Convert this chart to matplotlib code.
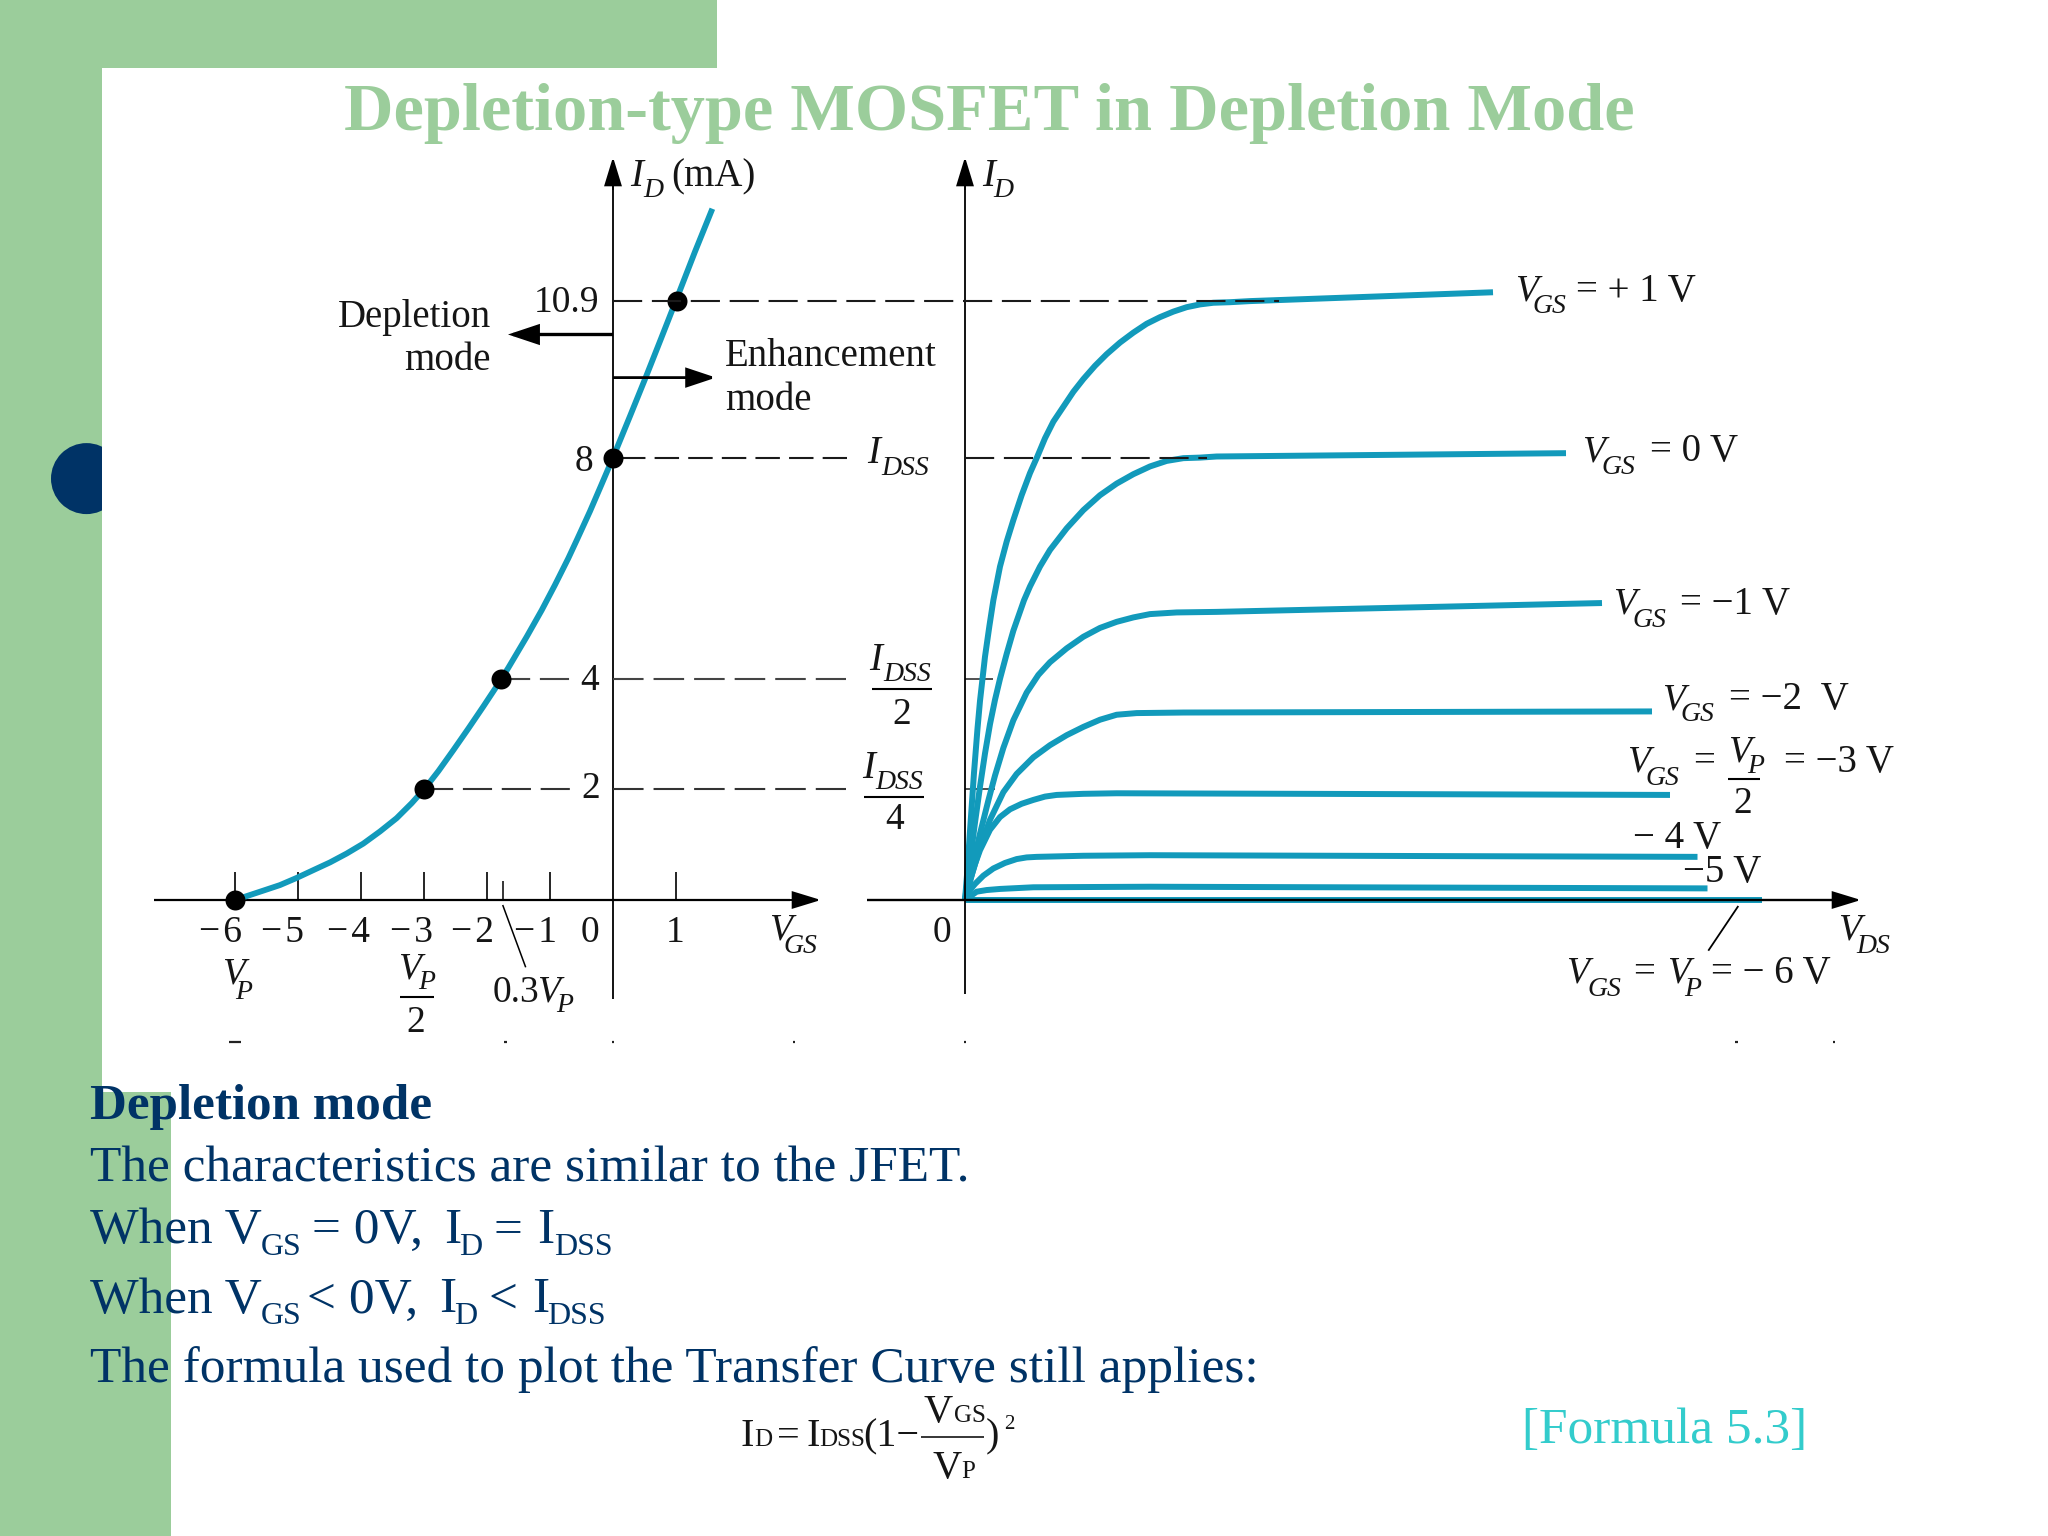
import matplotlib
matplotlib.use("Agg")
import matplotlib.pyplot as plt
from matplotlib.patches import Rectangle, Circle, FancyArrowPatch

plt.rcParams['font.family'] = ['Liberation Serif', 'DejaVu Serif']
plt.rcParams['lines.scale_dashes'] = False

W, H = 2048, 1536
GREEN = '#9BCD9B'
NAVY = '#003366'
TEAL = '#129ABB'
CYAN = '#33CCCC'
INK = '#151515'

# ---------- data ----------
# transfer curve (VGS in volts, ID in mA)
transfer_vgs = [-6, -5.815, -5.55, -5.286, -5.02, -4.757, -4.492, -4.228, -3.963, -3.698, -3.434, -3.196,
                -2.984, -2.772, -2.534, -2.296, -2.058, -1.82, -1.661, -1.37, -1.132, -0.92, -0.709,
                -0.566, -0.365, -0.18, 0, 0.27, 0.519, 0.762, 1.01, 1.30, 1.577]
transfer_id = [0, 0.07, 0.17, 0.27, 0.40, 0.54, 0.68, 0.84, 1.02, 1.24, 1.48, 1.75,
               2.02, 2.33, 2.71, 3.10, 3.50, 3.91, 4.20, 4.76, 5.24, 5.70, 6.18,
               6.53, 7.03, 7.52, 8.00, 8.75, 9.45, 10.15, 10.87, 11.72, 12.50]
dot_vgs = [-6, -3, -1.77, 0, 1.01]
dot_id = [0, 2, 4, 8, 10.84]
vgs_ticks = [-6, -5, -4, -3, -2, -1, 1]
vgs_minor_tick = [-1.75]
vgs_tick_labels = ['\u2212\u200a6', '\u2212\u200a5', '\u2212\u200a4', '\u2212\u200a3', '\u2212\u200a2', '\u2212\u200a1', '0', '1']

# drain curves (VDS in arbitrary units, ID in mA)
vds_p1 = [0, .04, .10, .18, .25, .30, .40, .487, .567, .70, .833, .967, 1.133, 1.30, 1.447, 1.60, 1.767,
          1.967, 2.167, 2.367, 2.60, 2.833, 3.10, 3.367, 3.633, 3.90, 4.167, 4.433, 4.70, 4.967, 5.30, 5.70, 10.56]
id_p1 = [0, .45, 1.25, 2.30, 3.10, 3.60, 4.40, 4.95, 5.42, 6.03, 6.48, 6.87, 7.32, 7.72, 8.02, 8.35, 8.65,
         8.92, 9.19, 9.42, 9.66, 9.87, 10.08, 10.26, 10.42, 10.54, 10.64, 10.72, 10.77, 10.80, 10.81, 10.83, 10.99]
vds_0 = [0, .10, .20, .30, .40, .50, .60, .70, .833, .967, 1.18, 1.30, 1.50, 1.70, 2.033, 2.367, 2.70, 3.033,
         3.367, 3.70, 4.033, 4.367, 4.70, 5.033, 12.02]
id_0 = [0, .70, 1.40, 2.05, 2.65, 3.18, 3.62, 4.00, 4.45, 4.87, 5.42, 5.67, 6.03, 6.33, 6.72, 7.05, 7.32, 7.53,
        7.70, 7.84, 7.94, 7.99, 8.0, 8.02, 8.08]
vds_m1 = [0, .15, .30, .467, .60, .767, .967, 1.233, 1.467, 1.70, 2.033, 2.367, 2.70, 3.033, 3.367, 3.70, 4.233, 5.033, 12.74]
id_m1 = [0, .62, 1.20, 1.80, 2.25, 2.75, 3.25, 3.75, 4.07, 4.30, 4.55, 4.76, 4.92, 5.03, 5.11, 5.17, 5.20, 5.21, 5.37]
vds_m2 = [0, .15, .30, .50, .767, 1.033, 1.367, 1.70, 2.033, 2.367, 2.70, 3.033, 3.433, 4.367, 13.74]
id_m2 = [0, .50, .95, 1.45, 1.95, 2.28, 2.58, 2.80, 2.98, 3.13, 3.26, 3.35, 3.38, 3.39, 3.41]
vds_m3 = [0, .10, .20, .30, .50, .70, .90, 1.133, 1.367, 1.60, 1.833, 2.367, 3.033, 14.1]
id_m3 = [0, .35, .65, .90, 1.27, 1.50, 1.64, 1.74, 1.81, 1.87, 1.90, 1.92, 1.93, 1.90]
vds_m4 = [0, .10, .20, .367, .567, .80, 1.033, 1.233, 1.433, 2.367, 3.70, 14.65]
id_m4 = [0, .18, .29, .44, .57, .67, .74, .77, .78, .80, .81, .78]
vds_m5 = [0, .233, .433, .70, 1.367, 3.70, 14.85]
id_m5 = [0, .15, .18, .20, .23, .24, .21]
vds_m6 = [0, 15.93]
id_m6 = [0, 0]

# ---------- figure and coordinate systems ----------
fig = plt.figure(figsize=(W / 100, H / 100), dpi=100, facecolor='white')

def layer(xlim, ylim, z):
    a = fig.add_axes([0, 0, 1, 1], zorder=z)
    a.set_xlim(*xlim)
    a.set_ylim(*ylim)
    a.axis('off')
    a.patch.set_alpha(0)
    return a

bg = layer((0, W), (H, 0), 0)        # page, in pixels
ylim_id = ((900 - H) / 55.3, 900 / 55.3)
left = layer(((0 - 613) / 63, (W - 613) / 63), ylim_id, 1)
right = layer(((0 - 965) / 50, (W - 965) / 50), ylim_id, 2)
top = layer((0, W), (H, 0), 3)       # annotations, in pixels

# ---------- slide background ----------
bg.add_patch(Rectangle((0, 0), 716.5, 68, fc=GREEN, ec='none', zorder=1))
bg.add_patch(Rectangle((0, 0), 102, H, fc=GREEN, ec='none', zorder=1))
bg.add_patch(Circle((86.5, 478.6), 35.5, fc=NAVY, ec='none', zorder=2))
bg.add_patch(Rectangle((102, 68), W, H, fc='white', ec='none', zorder=3))
bg.add_patch(Rectangle((0, 1092), 171, H - 1092, fc=GREEN, ec='none', zorder=4))

# ---------- helpers ----------
def T(x, y, s, size=28, style='normal', weight='normal', color=INK, ha='left'):
    return top.text(x, y, s, fontsize=size, fontstyle=style, fontweight=weight, color=color,
                    ha=ha, va='baseline')

def arrow(a, p0, p1, lw=1.4, hl=18, hw=5.5):
    a.add_patch(FancyArrowPatch(p0, p1, arrowstyle=f'-|>,head_length={hl},head_width={hw}',
                                mutation_scale=1, lw=lw, color='black', shrinkA=0, shrinkB=0,
                                joinstyle='miter', capstyle='butt', zorder=6))

def seg(a, x, y, lw=1.2, color='black', z=5):
    a.plot(x, y, color=color, lw=lw, solid_capstyle='butt', zorder=z)

DASH = (0, (21, 7))
def dash(a, x, yval, color='#1a1a1a', lw=1.5, z=5, pattern=DASH):
    a.plot(x, [yval, yval], color=color, lw=lw, linestyle=pattern, dash_capstyle='butt', zorder=z)

# ---------- left plot ----------
seg(left, [0, 0], [(900 - 999) / 55.3, (900 - 190) / 55.3], lw=1.3)
arrow(left, (0, (900 - 190) / 55.3), (0, (900 - 157) / 55.3))
seg(left, [(153.5 - 613) / 63, (790 - 613) / 63], [0, 0], lw=1.6)
arrow(left, ((790 - 613) / 63, 0), ((821 - 613) / 63, 0))
left.vlines(vgs_ticks, 0, 28 / 55.3, color='black', lw=1.2, zorder=4)
left.vlines(vgs_minor_tick, 0, 19 / 55.3, color='black', lw=1.1, zorder=4)

SHORT = (0, (17.6, 6.6))
WIDE = (0, (22, 7.2))
dash(left, [(620.8 - 613) / 63, (847 - 613) / 63], 8, pattern=SHORT)
dash(left, [-1.77, (571.5 - 613) / 63], 4, color='#444444')
dash(left, [0, (846 - 613) / 63], 4, color='#444444', pattern=WIDE)
dash(left, [-3, (571 - 613) / 63], 2, color='#333333')
dash(left, [0, (846 - 613) / 63], 2, color='#333333', pattern=WIDE)

left.plot(transfer_vgs, transfer_id, color=TEAL, lw=4.2, solid_capstyle='butt', solid_joinstyle='round', zorder=6)
left.plot(dot_vgs, dot_id, 'o', color='black', ms=14.4, mec='none', zorder=7)

# ---------- right plot ----------
seg(right, [0, 0], [(900 - 994) / 55.3, (900 - 190) / 55.3], lw=1.3)
arrow(right, (0, (900 - 190) / 55.3), (0, (900 - 157) / 55.3))
seg(right, [0, 28 / 50], [4, 4], lw=1.2, color='#333333', z=3)
seg(right, [0, 30 / 50], [2, 2], lw=1.2, color='#333333', z=3)

for vx, vy in [(vds_p1, id_p1), (vds_0, id_0), (vds_m1, id_m1), (vds_m2, id_m2),
               (vds_m3, id_m3), (vds_m4, id_m4), (vds_m5, id_m5), (vds_m6, id_m6)]:
    right.plot(vx, vy, color=TEAL, lw=4.3, solid_capstyle='butt', solid_joinstyle='round', zorder=4)
seg(right, [(866.8 - 965) / 50, (1840 - 965) / 50], [0, 0], lw=1.7, z=6)
arrow(right, ((1835 - 965) / 50, 0), ((1861 - 965) / 50, 0))
dash(right, [(613 - 965) / 50, (1279 - 965) / 50], 10.83)
dash(right, [0, (1207 - 965) / 50], 8)

# arrows, leaders and specks
arrow(top, (613, 334.5), (508, 334.5), lw=2.4, hl=18, hw=6)
arrow(top, (613, 377.6), (716, 377.6), lw=2.0, hl=18, hw=6)
seg(top, [502.7, 525.7], [905, 967.3], lw=1.1)
seg(top, [1738.3, 1708.3], [906, 950.7], lw=1.3)
for sx, sw in [(235, 12), (505, 3), (613, 2.5), (794, 2), (965, 2.5), (1736, 3), (1834, 2)]:
    seg(top, [sx - sw / 2, sx + sw / 2], [1041.5, 1041.5], lw=1.6, color='#222222')
for x0, x1, y in [(872, 932, 689), (864, 924, 797.4), (400, 434, 997), (1728, 1760, 779.3)]:
    seg(top, [x0, x1], [y, y], lw=1.5)

# ---------- chart labels ----------
S = 20  # subscript size
T(630, 186, 'I', style='italic', size=28); T(643, 197, 'D', style='italic', size=S)
T(671, 186, '(mA)', size=28)
T(981.7, 186, 'I', style='italic', size=28); T(993, 197, 'D', style='italic', size=S)
T(534, 312, '10.9', size=27)
T(491, 326.5, 'Depletion', ha='right'); T(491, 370.5, 'mode', ha='right')
T(725, 366.5, 'Enhancement'); T(725, 410, 'mode')
T(574.8, 471, '8', size=27); T(580, 690.5, '4', size=27); T(581.3, 798.4, '2', size=27)
T(866.8, 462.8, 'I', style='italic'); T(881.8, 475, 'DSS', style='italic', size=S)
T(868.7, 670, 'I', style='italic'); T(883, 680.7, 'DSS', style='italic', size=S)
T(901.4, 723.8, '2', ha='center', size=27)
T(862, 778, 'I', style='italic'); T(875, 788.6, 'DSS', style='italic', size=S)
T(895, 829, '4', ha='center', size=27)

for lbl, xr in zip(vgs_tick_labels, [241.7, 303.7, 370, 433, 494.4, 556.5, 599.6, 684.5]):
    T(xr, 942, lbl, ha='right', size=27)
T(951, 942, '0', ha='right', size=27)

def vsub(xv, yv, xs, ys, sub='GS', main='V', size=27):
    T(xv, yv, main, style='italic', size=size)
    T(xs, ys, sub, style='italic', size=S)

vsub(769.4, 939.4, 783.8, 953)
vsub(222, 983.5, 235, 999, 'P')
vsub(398.4, 978.6, 418, 989.4, 'P'); T(416, 1031.5, '2', ha='center', size=27)
T(493, 1001.7, '0.3', size=27); vsub(537, 1001.7, 556, 1011.7, 'P')

vsub(1515, 300.5, 1532, 313.4); T(1576, 301, '= + 1 V')
vsub(1582.5, 461, 1601.4, 474); T(1649.7, 461, '= 0 V')
vsub(1613, 614, 1632.7, 626.8); T(1680.4, 614, '= \u22121 V')
vsub(1662, 709.5, 1680.4, 721.3); T(1729.4, 709.5, '= \u22122  V')
vsub(1626.7, 771.7, 1645, 785); T(1692.7, 771.7, '=')
vsub(1728, 761.7, 1746.7, 773, 'P'); T(1743, 812.7, '2', ha='center', size=27)
T(1784, 771.7, '= \u22123 V')
T(1633, 848.3, '\u2212 4 V'); T(1683.3, 881.7, '\u22125 V')
vsub(1838, 940, 1856.7, 952.7, 'DS')
vsub(1566, 982.5, 1587, 995.7); T(1632.7, 982.5, '=')
vsub(1667.4, 982.5, 1683.7, 995.7, 'P'); T(1711, 982.5, '= \u2212 6 V')

# ---------- slide text ----------
T(989, 130, 'Depletion-type MOSFET in Depletion Mode', size=49.2, weight='bold', color=GREEN, ha='center')
B = 37
T(89.5, 1119, 'Depletion mode', size=36.7, weight='bold', color=NAVY)
T(89.5, 1182, 'The characteristics are similar to the JFET.', size=B, color=NAVY)
SB = 23
L1, L1s = 1243, 1255
L2, L2s = 1312.5, 1324
T(89.5, L1, 'When V', size=B, color=NAVY); T(261, L1s, 'GS', size=SB, color=NAVY)
T(312, L1, '= 0V,', size=B, color=NAVY); T(444, L1, 'I', size=B, color=NAVY); T(459, L1s, 'D', size=SB, color=NAVY)
T(493, L1, '=', size=B, color=NAVY); T(537, L1, 'I', size=B, color=NAVY); T(554, L1s, 'DSS', size=SB, color=NAVY)
T(89.5, L2, 'When V', size=B, color=NAVY); T(261, L2s, 'GS', size=SB, color=NAVY)
T(307, L2, '< 0V,', size=B, color=NAVY); T(439, L2, 'I', size=B, color=NAVY); T(454, L2s, 'D', size=SB, color=NAVY)
T(488.6, L2, '<', size=B, color=NAVY); T(532, L2, 'I', size=B, color=NAVY); T(547, L2s, 'DSS', size=SB, color=NAVY)
T(89.5, 1382, 'The formula used to plot the Transfer Curve still applies:', size=B, color=NAVY)

F = 29; FS = 18
T(741, 1446, 'I', size=F); T(754, 1446, 'D', size=FS); T(777, 1446, '=', size=F)
T(806.6, 1446, 'I', size=F); T(819.7, 1446, 'DSS', size=FS); T(863.5, 1446, '(1\u2212', size=F)
T(924, 1422, 'V', size=F); T(953.6, 1422, 'GS', size=FS)
seg(top, [921, 984], [1436.5, 1436.5], lw=1.1)
T(932.7, 1478, 'V', size=F); T(961.5, 1478, 'P', size=FS)
T(986, 1446, ')', size=F); T(1004.5, 1429, '2', size=15)
T(1522, 1443, '[Formula 5.3]', size=37, color=CYAN)

fig.savefig('out.png', dpi=100)
